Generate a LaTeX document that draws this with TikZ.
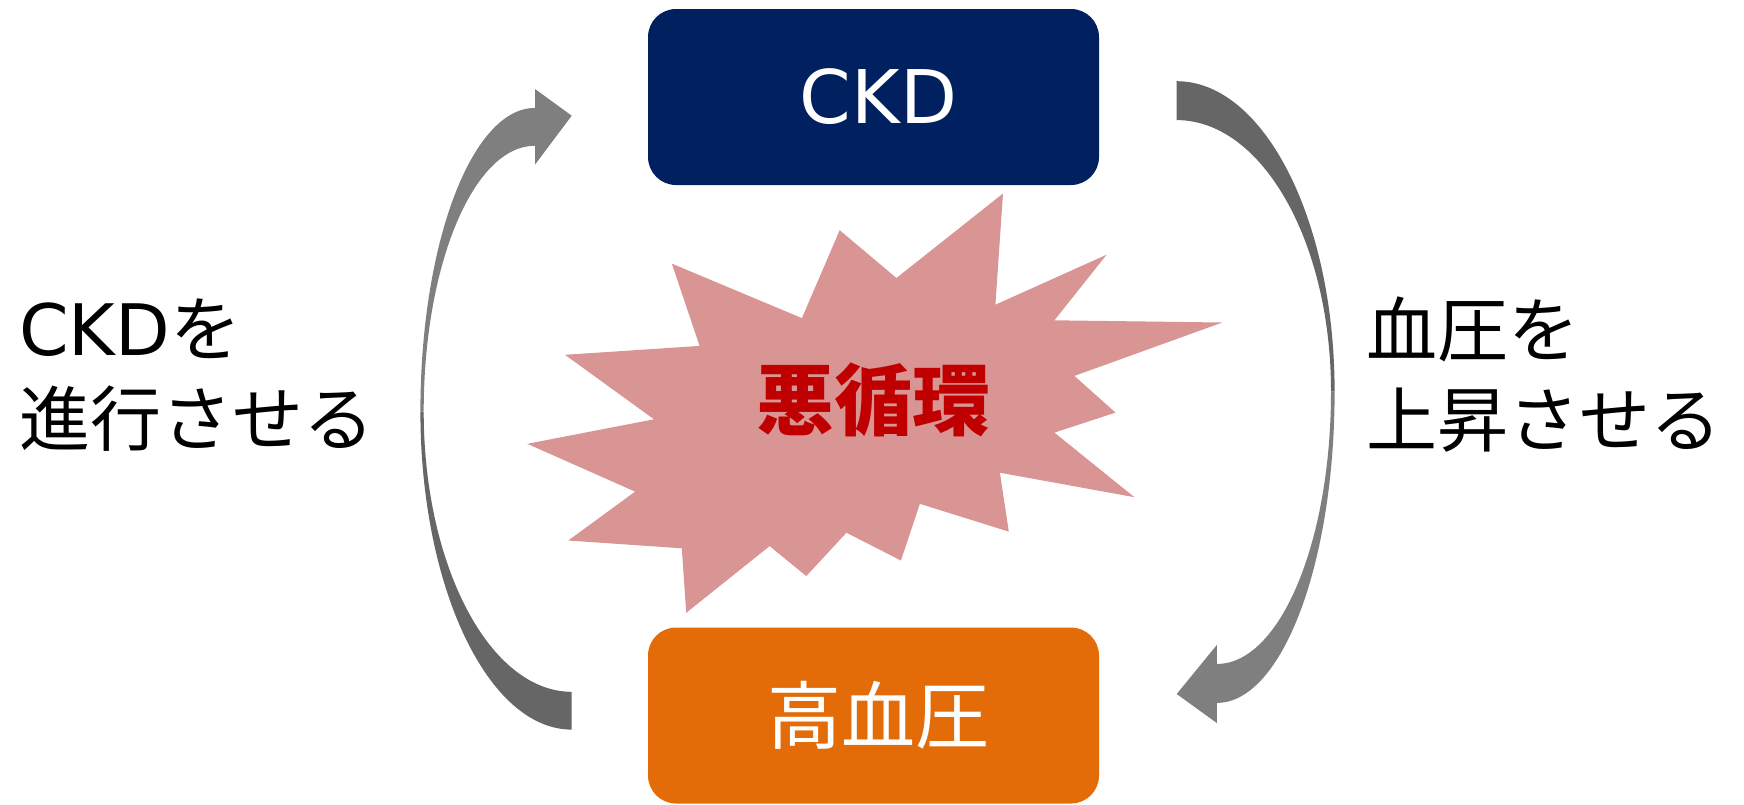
\documentclass[tikz,border=0pt]{standalone}
\usepackage{fontspec}
\setmainfont{Noto Sans CJK JP}
\newfontfamily\lat{DejaVu Sans}
\definecolor{navy}{HTML}{002060}
\definecolor{orng}{HTML}{E36C09}
\definecolor{starpink}{HTML}{D99594}
\definecolor{darkred}{HTML}{C00000}
\definecolor{lgray}{HTML}{7F7F7F}
\definecolor{dgray}{HTML}{666666}
\begin{document}
\begin{tikzpicture}[x=0.5pt,y=-0.5pt,
  box/.style={rounded corners=14pt, minimum width=225.5pt, minimum height=88pt, inner sep=0pt, text=white, font=\fontsize{37pt}{44pt}\selectfont},
  lbl/.style={align=left, inner sep=0pt, anchor=west, font=\fontsize{35.5pt}{45pt}\selectfont}]
\useasboundingbox (0,0) rectangle (1744,804);
% boxes
\node[box, fill=navy] (ckd) at (873.5,97) {\hspace*{5pt}{\lat CKD}};
\node[box, fill=orng] (hbp) at (873.5,715.5) {\hspace*{5pt}高血圧};
% star
\fill[starpink] (1003,193.5) -- (995.4,304.7) -- (1106.6,254.7) -- (1054.4,320.3) -- (1222.3,322.5)
  -- (1074.4,375.9) -- (1115.5,412.6) -- (1054.4,432.6) -- (1134.4,497.2) -- (999.9,472.7)
  -- (1008.8,531.6) -- (919.8,503.8) -- (900.9,560.5) -- (846.4,532.7) -- (806.3,576.1)
  -- (769.6,546.1) -- (686.2,612.8) -- (681.8,548.3) -- (568.3,540.5) -- (635.1,491.6)
  -- (527.2,443.8) -- (654,419.3) -- (565,354.8) -- (699.6,345.9) -- (671.8,263.6)
  -- (801.9,318.1) -- (839.7,230.2) -- (896.4,278) -- cycle;
\node[inner sep=0pt, text=darkred, font=\fontsize{39pt}{44pt}\selectfont\bfseries] (vc) at (873,400) {悪循環};
% left arrow
\fill[dgray] (571.7,729.6) .. controls (488.1,729.6) and (420.4,587.2) .. (420.4,411.5)
  -- (423.7,411.5) .. controls (423.7,566.3) and (490,691.8) .. (571.7,691.8) -- cycle;
\fill[lgray] (420.4,411.5) .. controls (420.4,243.8) and (471.7,107.9) .. (535,107.9)
  -- (535,89) -- (571.7,115.7) -- (535,164.6) -- (535,145.7)
  .. controls (473.5,145.7) and (423.7,264.7) .. (423.7,411.5) -- cycle;
% right arrow
\fill[dgray] (1176.7,81.2) .. controls (1263.9,81.2) and (1334.6,220.1) .. (1334.6,391.5)
  -- (1331,391.5) .. controls (1331,241.6) and (1261.9,120.1) .. (1176.7,120.1) -- cycle;
\fill[lgray] (1334.6,391.5) .. controls (1334.6,563.5) and (1281.9,702.9) .. (1216.8,702.9)
  -- (1216.8,723) -- (1176.7,694) -- (1216.8,645) -- (1216.8,664)
  .. controls (1279.9,664) and (1331,542) .. (1331,391.5) -- cycle;
% labels
\node[lbl] (left) at (19,375) {{\lat CKD}を\\進行させる};
\node[lbl] (right) at (1366,375) {血圧を\\上昇させる};
\end{tikzpicture}
\end{document}
